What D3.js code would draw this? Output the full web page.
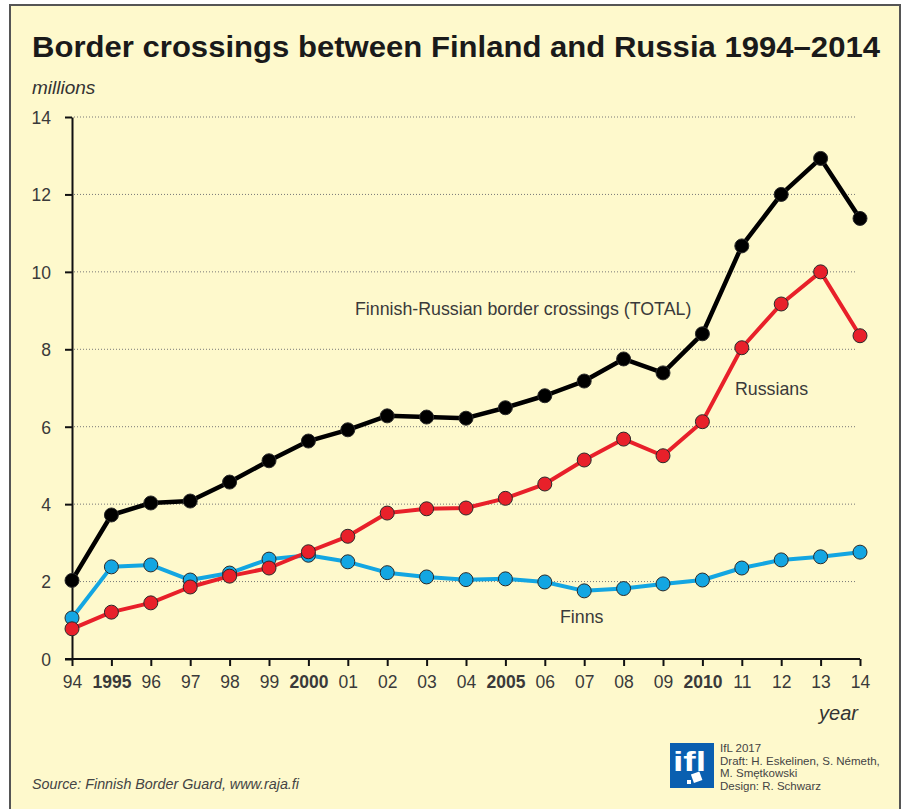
<meta charset="utf-8">
<html>
<head>
<style>
  body { margin: 0; background: #fff; }
  svg text { font-family: "Liberation Sans", Arial, Helvetica, sans-serif; }
  .axis text { fill: #3a3a3a; font-size: 17.5px; }
  .axis line, .axis path { stroke: #111; stroke-width: 2; }
  .grid line { stroke: #777; stroke-width: 1; stroke-dasharray: 1,2; }
  .lbl { fill: #3a3a3a; font-size: 17.8px; }
  .credit { fill: #444; font-size: 11.5px; }
</style>
</head>
<body>
<div id="chart"></div>
<script src="https://d3js.org/d3.v7.min.js"></script>
<script>
// values in millions
var years = [1994,1995,1996,1997,1998,1999,2000,2001,2002,2003,2004,2005,2006,2007,2008,2009,2010,2011,2012,2013,2014];
var total    = [2.03,3.72,4.03,4.08,4.57,5.12,5.63,5.92,6.28,6.25,6.22,6.49,6.80,7.18,7.75,7.39,8.40,10.67,12.0,12.93,11.38];
var russians = [0.78,1.21,1.45,1.86,2.14,2.35,2.77,3.17,3.77,3.88,3.90,4.15,4.52,5.14,5.68,5.25,6.13,8.04,9.17,10.0,8.35];
var finns    = [1.06,2.38,2.43,2.04,2.22,2.58,2.68,2.51,2.23,2.12,2.05,2.07,1.99,1.76,1.82,1.94,2.04,2.35,2.56,2.64,2.76];
var yTicks = [0,2,4,6,8,10,12,14];
var xTickLabels = ["94","1995","96","97","98","99","2000","01","02","03","04","2005","06","07","08","09","2010","11","12","13","14"];

var W = 904, H = 809;
var svg = d3.select("#chart").append("svg")
  .attr("width", W).attr("height", H);

// frame
svg.append("rect").attr("x", 10).attr("y", 5).attr("width", 890).attr("height", H)
  .attr("fill", "#fef9cc").attr("stroke", "#555").attr("stroke-width", 2);

var x = d3.scaleLinear().domain([1994, 2014]).range([72, 860]);
var y = d3.scaleLinear().domain([0, 14]).range([659, 117]);

// title
var title = svg.append("text").attr("x", 32).attr("y", 57)
  .style("font-size", "29px").style("font-weight", "bold").attr("fill", "#1a1a1a")
  .text("Border crossings between Finland and Russia 1994\u20132014");
title.attr("textLength", 848).attr("lengthAdjust", "spacingAndGlyphs");

svg.append("text").attr("x", 32).attr("y", 94)
  .style("font-size", "19px").style("font-style", "italic").attr("fill", "#333")
  .text("millions");

// gridlines
svg.append("g").attr("class", "grid")
  .selectAll("line").data(yTicks.filter(function(d) { return d > 0; }))
  .enter().append("line")
  .attr("x1", 74).attr("x2", 856)
  .attr("y1", function(d) { return y(d); }).attr("y2", function(d) { return y(d); });

// y axis
var yAxis = svg.append("g").attr("class", "axis")
  .attr("transform", "translate(72,0)")
  .call(d3.axisLeft(y).tickValues(yTicks).tickSize(7).tickSizeOuter(0).tickPadding(14));
yAxis.selectAll("text").attr("dy", "0.36em");

// x axis
var xAxis = svg.append("g").attr("class", "axis")
  .attr("transform", "translate(0,659)")
  .call(d3.axisBottom(x).tickValues(years).tickSize(7).tickSizeOuter(0).tickPadding(10)
    .tickFormat(function(d, i) { return xTickLabels[i]; }));
xAxis.select(".domain").attr("d", "M65,0H860");
xAxis.selectAll("text")
  .style("font-weight", function(d, i) { return xTickLabels[i].length === 4 ? "bold" : "normal"; })
  .attr("fill", function(d, i) { return xTickLabels[i].length === 4 ? "#222" : "#3a3a3a"; });

svg.append("text").attr("x", 858).attr("y", 720).attr("text-anchor", "end")
  .style("font-size", "20px").style("font-style", "italic").attr("fill", "#333")
  .text("year");

// series
var series = [
  { name: "finns", values: finns, color: "#13a6e2", width: 4 },
  { name: "russians", values: russians, color: "#e8202a", width: 4 },
  { name: "total", values: total, color: "#000000", width: 4.5 }
];

var line = d3.line()
  .x(function(d, i) { return x(years[i]); })
  .y(function(d) { return y(d); });

series.forEach(function(s) {
  svg.append("path").datum(s.values)
    .attr("fill", "none").attr("stroke", s.color)
    .attr("stroke-width", s.width).attr("stroke-linejoin", "round")
    .attr("d", line);
});
series.forEach(function(s) {
  svg.append("g").selectAll("circle").data(s.values).enter().append("circle")
    .attr("cx", function(d, i) { return x(years[i]); })
    .attr("cy", function(d) { return y(d); })
    .attr("r", 7)
    .attr("fill", s.color)
    .attr("stroke", "#2a2a2a").attr("stroke-width", 1);
});

// series labels
svg.append("text").attr("class", "lbl").attr("x", 355).attr("y", 315)
  .text("Finnish-Russian border crossings (TOTAL)");
svg.append("text").attr("class", "lbl").attr("x", 735).attr("y", 395)
  .text("Russians");
svg.append("text").attr("class", "lbl").attr("x", 560).attr("y", 623)
  .text("Finns");

// source
svg.append("text").attr("x", 32).attr("y", 789)
  .style("font-size", "14.3px").style("font-style", "italic").attr("fill", "#444")
  .text("Source: Finnish Border Guard, www.raja.fi");

// logo
var logo = svg.append("g").attr("transform", "translate(670,743)");
logo.append("rect").attr("width", 44).attr("height", 45).attr("fill", "#0a5fb0");
logo.append("text").attr("x", 3).attr("y", 28)
  .style("font-size", "27px").style("font-weight", "bold").attr("fill", "#fff")
  .attr("textLength", 33).attr("lengthAdjust", "spacingAndGlyphs")
  .text("ifl");
logo.append("rect").attr("x", 22).attr("y", 30).attr("width", 9).attr("height", 9)
  .attr("fill", "#fff").attr("transform", "rotate(-20,26,34)");
logo.append("rect").attr("x", 17).attr("y", 37).attr("width", 4).attr("height", 4)
  .attr("fill", "#fff");

var credits = ["IfL 2017", "Draft: H. Eskelinen, S. N\u00e9meth,", "M. Sm\u0119tkowski", "Design: R. Schwarz"];
svg.append("g").selectAll("text").data(credits).enter().append("text")
  .attr("class", "credit")
  .attr("x", 720)
  .attr("y", function(d, i) { return 752 + i * 12.7; })
  .text(function(d) { return d; });
</script>
</body>
</html>
